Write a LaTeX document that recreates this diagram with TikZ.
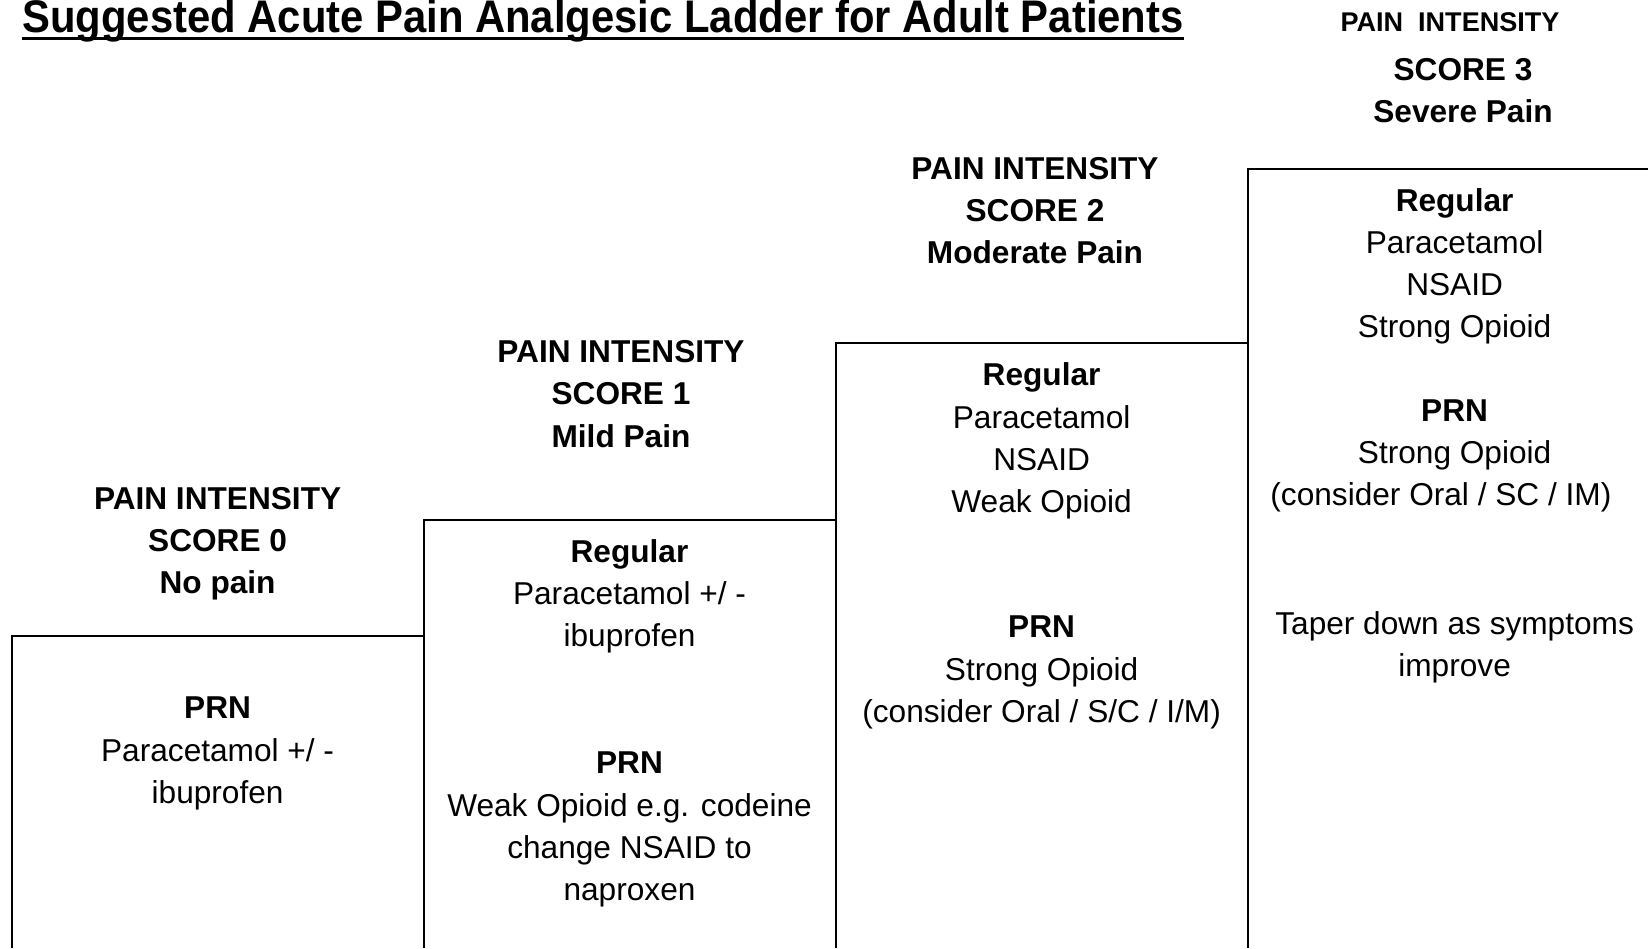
\documentclass[tikz,border=0pt]{standalone}
\usepackage{fontspec}
\setmainfont{Liberation Sans}
\usetikzlibrary{positioning}
\tikzset{
  heading/.style={align=center, inner sep=0pt, font=\bfseries\fontsize{18}{24}\selectfont},
  druglist/.style={align=center, inner sep=0pt, font=\fontsize{18}{24}\selectfont},
  ladder/.style={line width=1.1pt}
}
\newcommand{\regular}{\textbf{Regular}\\}
\newcommand{\prn}{\textbf{PRN}\\}

\begin{document}
\begin{tikzpicture}[x=0.02cm, y=-0.02cm]

	\useasboundingbox (0,0) rectangle (1648,948);

	% title
	\node[anchor=base west, inner sep=0pt] (title) at (22,32)
		{\scalebox{0.915}[1]{\bfseries\fontsize{26}{30}\selectfont Suggested Acute Pain Analgesic Ladder for Adult Patients}};
	\draw[line width=2pt] ([yshift=-3.7pt]title.base west) -- ([yshift=-3.7pt]title.base east);

	% the steps of the ladder
	\draw[ladder] (11.6,948) |- (423.6,636);
	\draw[ladder] (423.6,948) |- (835.6,520);
	\draw[ladder] (835.6,948) |- (1247.6,342.6);
	\draw[ladder] (1247.6,948) |- (1648,169.2);

	% score 0
	\node[heading] (head0) at (217.6,544) {PAIN INTENSITY\\ SCORE 0\\ No pain};
	\node[druglist] (prn0) at (217.6,753.5) {\prn Paracetamol +/ -\\ ibuprofen};

	% score 1
	\node[heading] (head1) at (621,394) {PAIN INTENSITY\\ SCORE 1\\ Mild Pain};
	\node[druglist] (reg1) at (629.5,596) {\regular Paracetamol +/ -\\ ibuprofen};
	\node[druglist] (prn1) at (629.5,829.5) {\prn Weak Opioid e.g. codeine\\ change NSAID to\\ naproxen};

	% score 2
	\node[heading] (head2) at (1035,210.5) {PAIN INTENSITY\\ SCORE 2\\ Moderate Pain};
	\node[druglist] (reg2) at (1041.6,441) {\regular Paracetamol\\ NSAID\\ Weak Opioid};
	\node[druglist] (prn2) at (1041.6,672.5) {\prn Strong Opioid\\ (consider Oral / S/C / I/M)};

	% score 3
	\node[heading, font=\bfseries\fontsize{15.4}{20}\selectfont] (head3) at (1450,22) {PAIN\ \ INTENSITY};
	\node[heading] (score3) at (1463,90.5) {SCORE 3\\ Severe Pain};
	\node[druglist] (reg3) at (1454.6,266.5) {\regular Paracetamol\\ NSAID\\ Strong Opioid};
	\node[druglist] (prn3) at (1454.6,456) {\prn Strong Opioid\\ (consider Oral / SC / IM)\hspace*{15.6pt}};
	\node[druglist] (taper3) at (1454.6,647) {Taper down as symptoms\\ improve};

\end{tikzpicture}
\end{document}
